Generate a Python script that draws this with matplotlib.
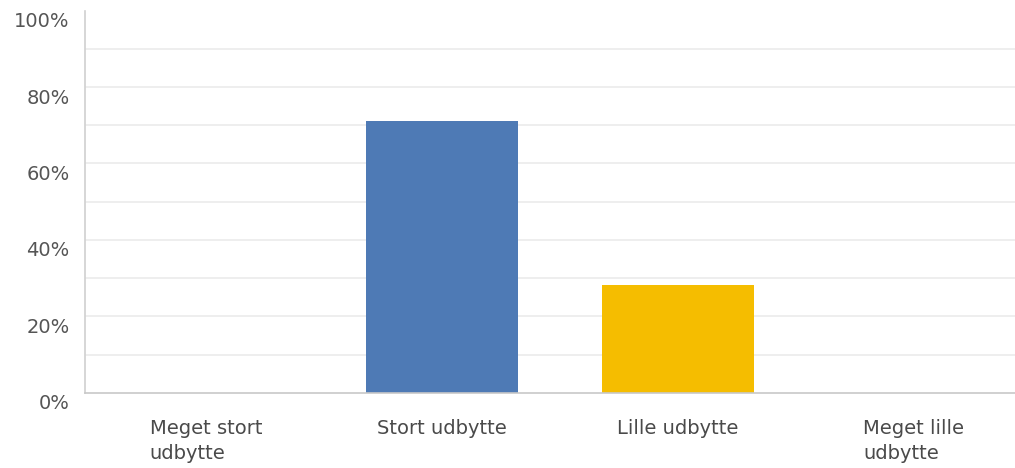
import matplotlib.pyplot as plt
import matplotlib.transforms as mtransforms
import numpy as np

# survey answers
categories = ['Meget stort\nudbytte', 'Stort udbytte', 'Lille udbytte', 'Meget lille\nudbytte']
values = [0, 71.1, 28.2, 0]
colors = ['#4e7ab5', '#4e7ab5', '#f5bd00', '#f5bd00']
yticks = [0, 20, 40, 60, 80, 100]
gridlines = [10, 20, 30, 40, 50, 60, 70, 80, 90]

plt.rcParams['font.family'] = ['DejaVu Sans']

fig = plt.figure(figsize=(10.15, 4.68), dpi=100)
ax = fig.add_axes([85/1015, 75.3/468, 930/1015, 382/468])

x = np.arange(len(categories))
for g in gridlines:
    ax.axhline(g, color='#ebebeb', linewidth=1.2, zorder=0)
ax.bar(x, values, width=0.644, color=colors, zorder=2)

ax.set_xlim(-0.513, 3.43)
ax.set_ylim(0, 100)
ax.set_yticks(yticks)
ax.set_yticklabels([f'{t}%' for t in yticks], fontsize=14, color='#555555')
ax.set_xticks(x)
ax.set_xticklabels(categories, fontsize=14, color='#4a4a4a', multialignment='left',
                   va='top', linespacing=1.4)
ax.tick_params(axis='both', length=0)
ax.tick_params(axis='y', pad=11)
ax.tick_params(axis='x', pad=19)

# y labels sit a bit below their gridline
off = mtransforms.ScaledTranslation(0, -9/100, fig.dpi_scale_trans)
for lab in ax.get_yticklabels():
    lab.set_transform(lab.get_transform() + off)

for s in ['top', 'right']:
    ax.spines[s].set_visible(False)
ax.spines['left'].set_color('#d0d0d0')
ax.spines['bottom'].set_color('#c8c8c8')
ax.spines['left'].set_linewidth(1.2)
ax.spines['bottom'].set_linewidth(1.2)

fig.savefig('out.png', dpi=100)
